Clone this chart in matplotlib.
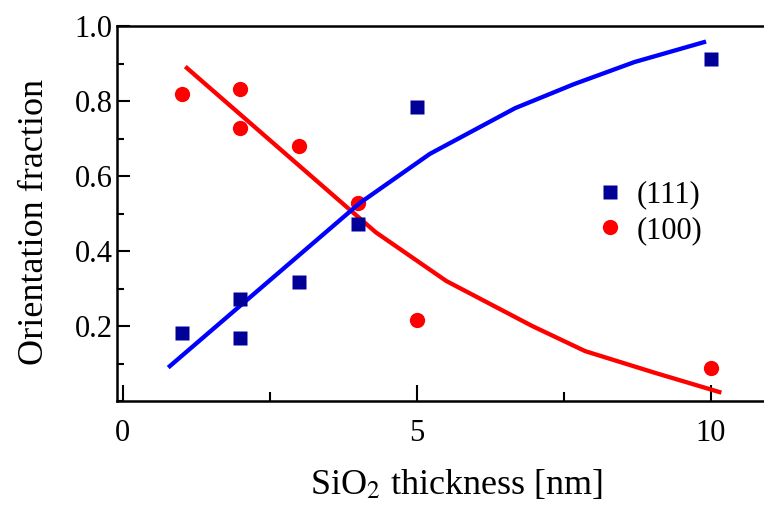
import matplotlib.pyplot as plt
from matplotlib.ticker import MultipleLocator

plt.rcParams['font.family'] = ['Liberation Serif', 'DejaVu Serif']
plt.rcParams['mathtext.fontset'] = 'stix'

# measured points
x111 = [1, 2, 2, 3, 4, 5, 10]
y111 = [0.181, 0.272, 0.168, 0.317, 0.472, 0.784, 0.912]
x100 = [1, 2, 2, 3, 4, 5, 10]
y100 = [0.819, 0.832, 0.728, 0.680, 0.528, 0.216, 0.088]

# fitted curves
fit111_x = [0.8, 4.03, 5.22, 6.67, 7.67, 8.7, 9.88]
fit111_y = [0.093, 0.528, 0.659, 0.781, 0.845, 0.904, 0.957]
fit100_x = [1.09, 4.3, 5.5, 6.96, 7.86, 9.05, 10.14]
fit100_y = [0.888, 0.45, 0.32, 0.20, 0.133, 0.075, 0.024]

fig = plt.figure(figsize=(7.64, 5.08), dpi=100)
ax = fig.add_axes([0.153, 0.2106, 0.847, 0.7382])

ax.plot(fit100_x, fit100_y, color='#ff0000', lw=3.1, zorder=2)
ax.plot(x100, y100, 'o', color='#ff0000', ms=11, mec='none', label='(100)', zorder=3)
ax.plot(fit111_x, fit111_y, color='#0000ff', lw=3.1, zorder=4)
ax.plot(x111, y111, 's', color='#000099', ms=10.5, mec='none', label='(111)', zorder=5)

ax.set_xlim(-0.1, 10.9)
ax.set_ylim(0, 1.0)
ax.set_xticks([0, 5, 10])
ax.xaxis.set_minor_locator(MultipleLocator(2.5))
ax.set_yticks([0.2, 0.4, 0.6, 0.8, 1.0])
ax.yaxis.set_minor_locator(MultipleLocator(0.1))

ax.tick_params(axis='both', which='both', direction='in', width=1.5, labelsize=22)
ax.tick_params(axis='x', which='major', length=11.5, pad=13)
ax.tick_params(axis='x', which='minor', length=6.5)
ax.tick_params(axis='y', which='major', length=9.5, pad=3)
ax.tick_params(axis='y', which='minor', length=5)

ax.spines['right'].set_visible(False)
for s in ['left', 'bottom', 'top']:
    ax.spines[s].set_linewidth(1.8)

ax.set_xlabel('SiO$_2$ thickness [nm]', fontsize=26)
ax.set_ylabel('Orientation fraction', fontsize=26)
ax.xaxis.set_label_coords(0.5255, -0.178)
ax.yaxis.set_label_coords(-0.102, 0.477)

h, l = ax.get_legend_handles_labels()
ax.legend(h[::-1], l[::-1], loc='center left', bbox_to_anchor=(0.725, 0.502),
          frameon=False, fontsize=22, handlelength=0.8, handletextpad=0.45,
          labelspacing=0.2, borderaxespad=0)

fig.savefig('out.png', dpi=100)
